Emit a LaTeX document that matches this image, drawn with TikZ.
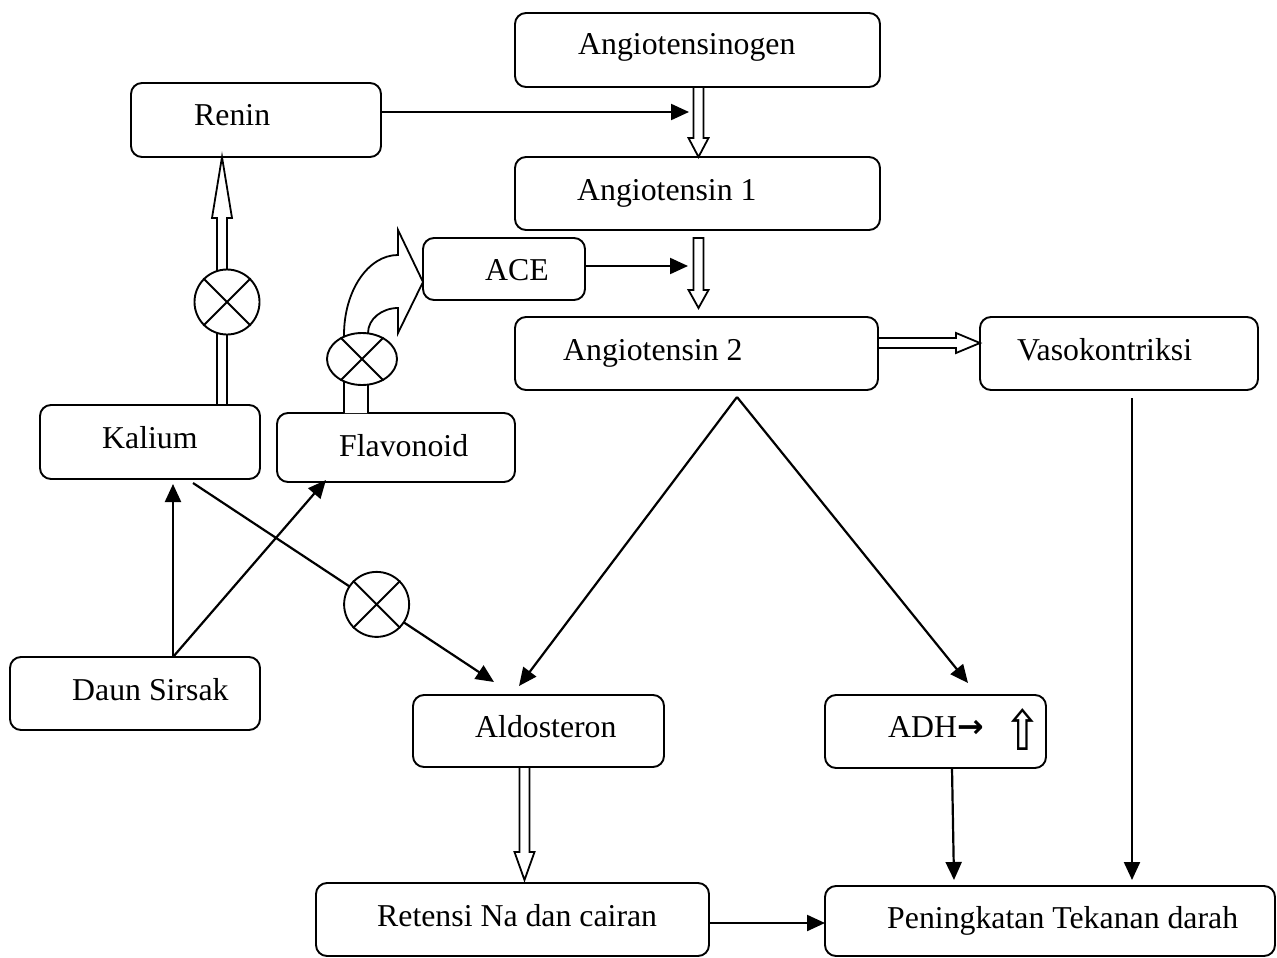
\documentclass[tikz,border=0pt]{standalone}
\usepackage{fontspec}
\setmainfont{Liberation Serif}
\newfontfamily\symfont{DejaVu Sans}
\usetikzlibrary{calc,arrows.meta,shapes.geometric}
\newcommand\blockarr[3]{%
  \path ($(#2)!#3!(#1)$) coordinate (hb);
  \draw[hollow] ($(#1)!5pt!90:(#2)$) -- ($(hb)!5pt!-90:(#1)$) -- ($(hb)!10pt!-90:(#1)$) -- (#2) -- ($(hb)!10pt!90:(#1)$) -- ($(hb)!5pt!90:(#1)$) -- ($(#1)!5pt!-90:(#2)$) -- cycle;}
\newcommand\crossmark[1]{\draw[xline] (#1.45) -- (#1.225) (#1.135) -- (#1.315);}
\begin{document}
\begin{tikzpicture}[x=1pt,y=-1pt,
  box/.style={draw, rounded corners=11pt, line width=1.9pt, inner sep=0pt, outer sep=0pt},
  txt/.style={anchor=base west, inner sep=0pt, font=\fontsize{31.8}{38}\selectfont},
  arr/.style={line width=2.2pt, -{Triangle[length=18pt,width=16pt]}},
  hollow/.style={draw, line width=1.8pt, fill=white, line join=miter},
  xc/.style={circle, draw, fill=white, line width=1.9pt, minimum size=65pt, inner sep=0pt},
  xe/.style={ellipse, draw, fill=white, line width=1.9pt, minimum width=70pt, minimum height=52pt, inner sep=0pt},
  xline/.style={line width=1.9pt}]
\useasboundingbox (0,0) rectangle (1277,958);
% boxes
\node[box, minimum width=365pt, minimum height=74pt] (ag) at (697.5,50) {};
\node[box, minimum width=250pt, minimum height=74pt] (rn) at (256,120) {};
\node[box, minimum width=365pt, minimum height=73pt] (a1) at (697.5,193.5) {};
\node[box, minimum width=162pt, minimum height=62pt] (ace) at (504,269) {};
\node[box, minimum width=363pt, minimum height=73pt] (a2) at (696.5,353.5) {};
\node[box, minimum width=278pt, minimum height=73pt] (vs) at (1119,353.5) {};
\node[box, minimum width=220pt, minimum height=74pt] (ka) at (150,442) {};
\node[box, minimum width=238pt, minimum height=69pt] (fl) at (396,447.5) {};
\node[box, minimum width=250pt, minimum height=73pt] (ds) at (135,693.5) {};
\node[box, minimum width=251pt, minimum height=72pt] (al) at (538.5,731) {};
\node[box, minimum width=221pt, minimum height=73pt] (adh) at (935.5,731.5) {};
\node[box, minimum width=393pt, minimum height=73pt] (rt) at (512.5,919.5) {};
\node[box, minimum width=450pt, minimum height=70pt] (pk) at (1050,921) {};
% texts
\node[txt] (t-ag) at (578,55) {Angiotensinogen};
\node[txt] (t-rn) at (194,125) {Renin};
\node[txt] (t-a1) at (577,200) {Angiotensin 1};
\node[txt] (t-ace) at (485,280) {ACE};
\node[txt] (t-a2) at (563,360) {Angiotensin 2};
\node[txt] (t-vs) at (1017,360) {Vasokontriksi};
\node[txt] (t-ka) at (102,448) {Kalium};
\node[txt] (t-fl) at (339,456) {Flavonoid};
\node[txt] (t-ds) at (72,700) {Daun Sirsak};
\node[txt] (t-al) at (475,737) {Aldosteron};
\node[txt] (t-adh) at (888,737) {ADH{\symfont\bfseries →}\hspace{20pt}\raisebox{-13pt}{\scalebox{1.45}[1.75]{\symfont ⇧}}};
\node[txt] (t-rt) at (377,926) {Retensi Na dan cairan};
\node[txt] (t-pk) at (887,928) {Peningkatan Tekanan darah};
% coordinates
\coordinate (s1) at ([xshift=1pt]ag.south);
\coordinate (e1) at ([xshift=1pt]a1.north);
\coordinate (s2) at ([xshift=1pt,yshift=-8pt]a1.south);
\coordinate (e2) at ([xshift=2pt,yshift=9pt]a2.north);
\coordinate (s3) at ([xshift=72pt]ka.north);
\coordinate (e3) at ([xshift=-34pt]rn.south);
\coordinate (s4) at ([yshift=10.5pt]a2.east);
\coordinate (e4) at ([yshift=10.5pt]vs.west);
\coordinate (s5) at ([xshift=-14pt]al.south);
\coordinate (e5) at ([xshift=12pt,yshift=3pt]rt.north);
% block arrows
\blockarr{s1}{e1}{19pt}
\blockarr{s2}{e2}{18pt}
\blockarr{s3}{e3}{61pt}
\blockarr{s4}{e4}{24pt}
\blockarr{s5}{e5}{28pt}
% curved block arrow from Flavonoid to ACE
\draw[hollow] ([xshift=-52pt]fl.north) -- (344,335) .. controls (344,291) and (368,255) .. (398,255)
  -- (398,230) -- (423,282) -- (398,333) -- (398,308) .. controls (382,308) and (368,319) .. (368,333)
  -- ([xshift=-28pt]fl.north);
% thin arrows
\coordinate (rnT) at (689,112);
\draw[arr] ([yshift=8pt]rn.east) -- (rnT);
\coordinate (aceT) at (688,266);
\draw[arr] ([yshift=3pt]ace.east) -- (aceT);
\coordinate (dsJ) at ([xshift=38pt]ds.north);
\draw[arr] (dsJ) -- ([xshift=23pt,yshift=-5pt]ka.south);
\draw[arr] (dsJ) -- ([xshift=-70pt,yshift=2pt]fl.south);
\coordinate (kaS) at ([xshift=43pt,yshift=-4pt]ka.south);
\coordinate (alT) at ([xshift=-44.5pt,yshift=13pt]al.north);
\draw[arr] (kaS) -- (alT);
\coordinate (apex) at ([xshift=40.5pt,yshift=-7pt]a2.south);
\draw[arr] (apex) -- ([xshift=-19.5pt,yshift=9pt]al.north);
\draw[arr] (apex) -- ([xshift=32.5pt,yshift=12pt]adh.north);
\draw[arr] ([xshift=16.5pt]adh.south) -- ([xshift=-96pt,yshift=6pt]pk.north);
\draw[arr] ([xshift=13pt,yshift=-8pt]vs.south) -- ([xshift=82pt,yshift=6pt]pk.north);
\draw[arr] ([yshift=-3.5pt]rt.east) -- ([yshift=-3.5pt]rt.east -| pk.west);
% inhibition circles
\node[xc] (c1) at (227,302) {};
\crossmark{c1}
\node[xe] (c2) at (362,359) {};
\crossmark{c2}
\node[xc] (c3) at ($(kaS)!0.61!(alT)$) {};
\crossmark{c3}
\end{tikzpicture}
\end{document}
